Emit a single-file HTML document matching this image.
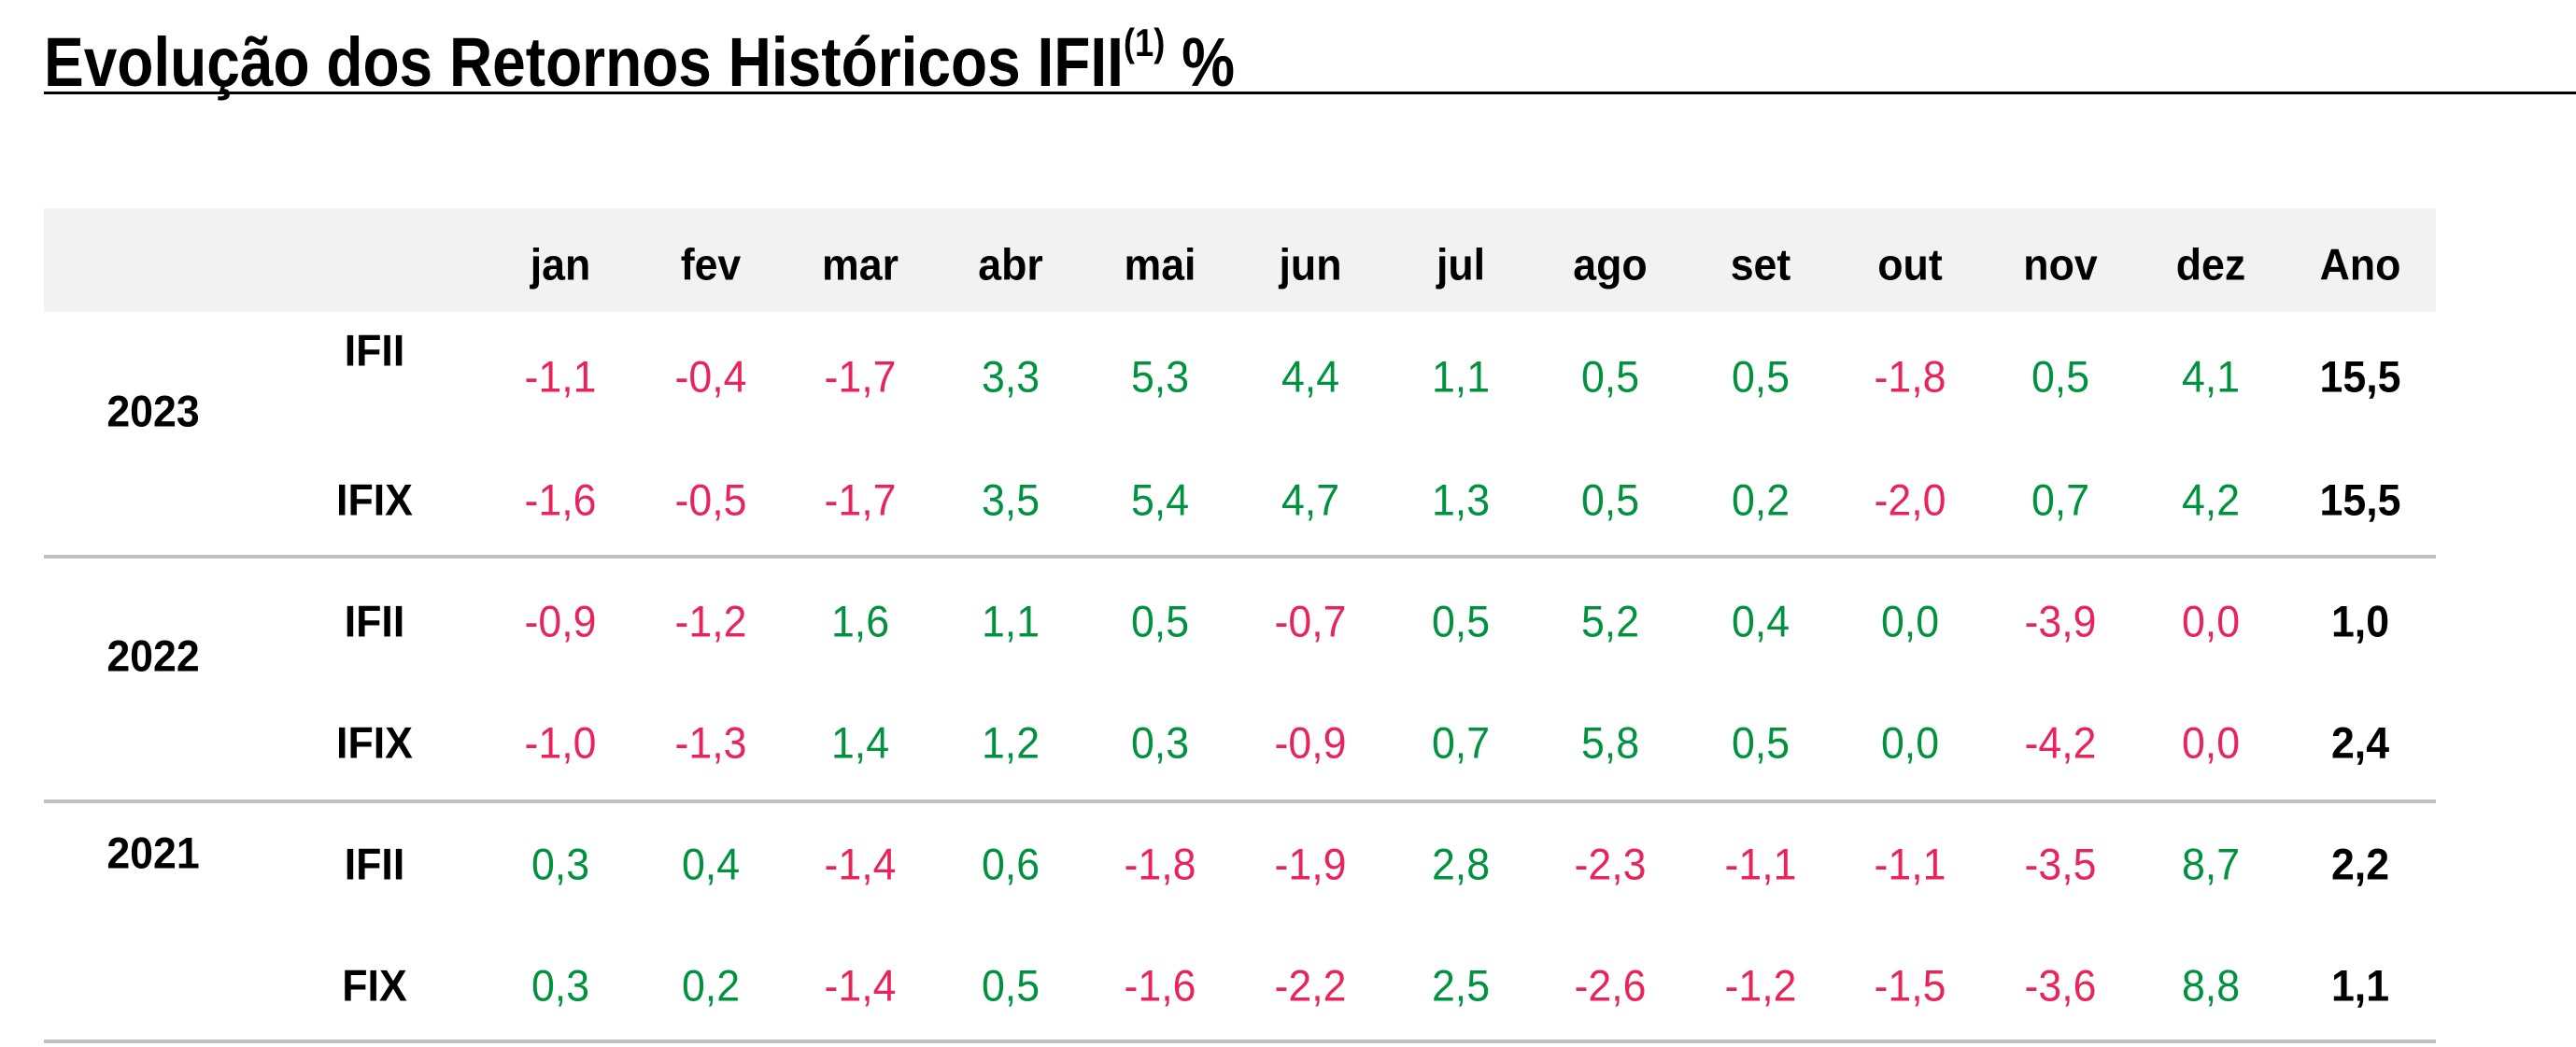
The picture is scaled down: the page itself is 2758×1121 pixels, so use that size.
<!DOCTYPE html>
<html><head><meta charset="utf-8"><style>
body{margin:0;width:2758px;height:1121px;background:#fff;position:relative;overflow:hidden;font-family:"Liberation Sans",sans-serif}
.t{position:absolute;left:47px;top:22px;font-size:74px;font-weight:bold;color:#000;white-space:nowrap;transform:scaleX(.865);transform-origin:left top}
.t sup{font-size:42px;vertical-align:32px}
.c{position:absolute;transform:translate(-50%,-50%) scaleX(.95);white-space:nowrap;font-size:47px;line-height:1}
.b{font-weight:bold;color:#000}
.r{color:#e8245a}.g{color:#00923f}
.hl{position:absolute;left:47px;width:2561px;height:4px;background:#c0c0c0}
</style></head><body>
<div class="t">Evolução dos Retornos Históricos IFII<sup>(1)</sup> %</div>
<div style="position:absolute;left:47px;top:98px;width:2711px;height:3px;background:#000"></div>
<div style="position:absolute;left:47px;top:223px;width:2561px;height:111px;background:#f2f2f2"></div>
<div class="hl" style="top:594px"></div>
<div class="hl" style="top:856px"></div>
<div class="hl" style="top:1113px"></div>
<div id="g"></div>
<script>
var cols=["jan","fev","mar","abr","mai","jun","jul","ago","set","out","nov","dez","Ano"];
var h="";
function x(i){return 600+i*160.6}
cols.forEach(function(c,i){h+='<div class="c b" style="left:'+x(i)+'px;top:283px">'+c+'</div>'});
var years=[["2023",440],["2022",702],["2021",913]];
years.forEach(function(y){h+='<div class="c b" style="left:164px;top:'+y[1]+'px">'+y[0]+'</div>'});
var rows=[
["IFII",375,403,["-1,1","-0,4","-1,7","3,3","5,3","4,4","1,1","0,5","0,5","-1,8","0,5","4,1"],"15,5"],
["IFIX",535,535,["-1,6","-0,5","-1,7","3,5","5,4","4,7","1,3","0,5","0,2","-2,0","0,7","4,2"],"15,5"],
["IFII",665,665,["-0,9","-1,2","1,6","1,1","0,5","-0,7","0,5","5,2","0,4","0,0","-3,9","r0,0"],"1,0"],
["IFIX",795,795,["-1,0","-1,3","1,4","1,2","0,3","-0,9","0,7","5,8","0,5","0,0","-4,2","r0,0"],"2,4"],
["IFII",925,925,["0,3","0,4","-1,4","0,6","-1,8","-1,9","2,8","-2,3","-1,1","-1,1","-3,5","8,7"],"2,2"],
["FIX",1055,1055,["0,3","0,2","-1,4","0,5","-1,6","-2,2","2,5","-2,6","-1,2","-1,5","-3,6","8,8"],"1,1"]];
rows.forEach(function(r){
h+='<div class="c b" style="left:401px;top:'+r[1]+'px">'+r[0]+'</div>';
r[3].forEach(function(v,i){var cl=v[0]=="-"?"r":"g";if(v[0]=="r"){cl="r";v=v.slice(1)}
h+='<div class="c '+cl+'" style="left:'+x(i)+'px;top:'+r[2]+'px">'+v+'</div>'});
h+='<div class="c b" style="left:'+x(12)+'px;top:'+r[2]+'px">'+r[4]+'</div>';
});
document.getElementById("g").innerHTML=h;
</script>
</body></html>
